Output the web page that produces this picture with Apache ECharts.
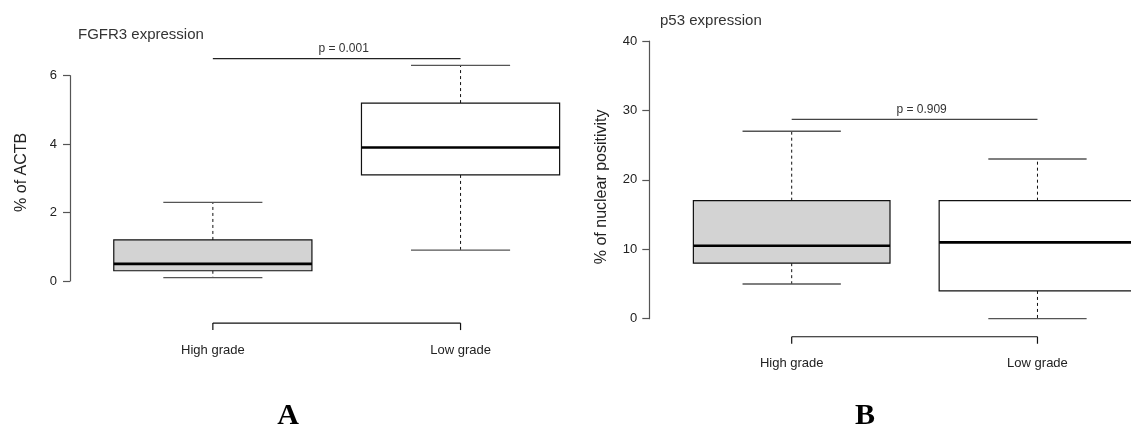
<!DOCTYPE html>
<html>
<head>
<meta charset="utf-8">
<title>FGFR3 and p53 expression</title>
<script src="https://cdn.jsdelivr.net/npm/echarts@6/dist/echarts.min.js"></script>
<style>
  html, body { margin: 0; padding: 0; background: #fff; }
  #chart { width: 1131px; height: 429px; }
</style>
</head>
<body>
<div id="chart"></div>
<script>
// groups on the x axis
const groups = ['High grade', 'Low grade'];
const groupPos = [1, 2];

// box stats per group: [min, q1, median, q3, max]
const fgfr3Box = [
  [0.1, 0.3, 0.5, 1.2, 2.3],
  [0.9, 3.1, 3.9, 5.2, 6.3]
];
const p53Box = [
  [5, 8, 10.5, 17, 27],
  [0, 4, 11, 17, 23]
];

// y tick labels
const fgfr3Ticks = [0, 2, 4, 6];
const p53Ticks = [0, 10, 20, 30, 40];

// significance annotations
const fgfr3PValue = 'p = 0.001';
const p53PValue = 'p = 0.909';
const fgfr3SigLevel = 6.5;
const p53SigLevel = 28.7;
const fgfr3BracketLevel = -1.23;
const p53BracketLevel = -2.6;

const boxFill = ['#d3d3d3', '#ffffff'];
const FONT = 'Liberation Sans, Arial, Helvetica, sans-serif';

const chart = echarts.init(document.getElementById('chart'));

// R style boxplot: dashed whiskers, half width caps
function renderBox(params, api) {
  const x = api.value(0);
  const lo = api.value(1), q1 = api.value(2), med = api.value(3), q3 = api.value(4), hi = api.value(5);
  const tl = api.coord([x - 0.4, q3]);
  const br = api.coord([x + 0.4, q1]);
  const m1 = api.coord([x - 0.4, med]);
  const m2 = api.coord([x + 0.4, med]);
  const c = api.coord([x, med]);
  const yLo = api.coord([x, lo])[1];
  const yHi = api.coord([x, hi])[1];
  const capL = api.coord([x - 0.2, lo])[0];
  const capR = api.coord([x + 0.2, lo])[0];
  const dash = { stroke: '#111', lineWidth: 1, lineDash: [3, 3] };
  const cap = { stroke: '#555', lineWidth: 1.3 };
  return {
    type: 'group',
    children: [
      { type: 'line', shape: { x1: c[0], y1: tl[1], x2: c[0], y2: yHi }, style: dash },
      { type: 'line', shape: { x1: c[0], y1: br[1], x2: c[0], y2: yLo }, style: dash },
      { type: 'line', shape: { x1: capL, y1: yHi, x2: capR, y2: yHi }, style: cap },
      { type: 'line', shape: { x1: capL, y1: yLo, x2: capR, y2: yLo }, style: cap },
      {
        type: 'rect',
        shape: { x: tl[0], y: tl[1], width: br[0] - tl[0], height: br[1] - tl[1] },
        style: { fill: boxFill[params.dataIndex], stroke: '#111', lineWidth: 1.2 }
      },
      { type: 'line', shape: { x1: m1[0], y1: m1[1], x2: m2[0], y2: m2[1] }, style: { stroke: '#000', lineWidth: 2.6 } }
    ]
  };
}

function sigRenderer(label, color) {
  return function (params, api) {
    const a = api.coord([api.value(0), api.value(2)]);
    const b = api.coord([api.value(1), api.value(2)]);
    return {
      type: 'group',
      children: [
        { type: 'line', shape: { x1: a[0], y1: a[1], x2: b[0], y2: b[1] }, style: { stroke: color, lineWidth: 1.2 } },
        {
          type: 'text',
          x: (a[0] + b[0]) / 2 + 7,
          y: a[1] - 4,
          style: { text: label, fill: '#333', font: '12px ' + FONT, align: 'center', verticalAlign: 'bottom' }
        }
      ]
    };
  };
}

// the x axis of R drawn as a bracket between the groups
function renderBracket(params, api) {
  const a = api.coord([api.value(0), api.value(2)]);
  const b = api.coord([api.value(1), api.value(2)]);
  const st = { stroke: '#111', lineWidth: 1.2 };
  return {
    type: 'group',
    children: [
      { type: 'line', shape: { x1: a[0], y1: a[1], x2: b[0], y2: b[1] }, style: st },
      { type: 'line', shape: { x1: a[0], y1: a[1], x2: a[0], y2: a[1] + 7 }, style: st },
      { type: 'line', shape: { x1: b[0], y1: b[1], x2: b[0], y2: b[1] + 7 }, style: st }
    ]
  };
}

function yAxisFor(ticks, gridIndex, name, offset, margin, padding) {
  return {
    type: 'value',
    gridIndex: gridIndex,
    min: ticks[0],
    max: ticks[ticks.length - 1],
    interval: ticks[1] - ticks[0],
    offset: offset,
    name: name,
    nameLocation: 'middle',
    nameGap: 40,
    nameTextStyle: { fontSize: 16, fontFamily: FONT, color: '#222', padding: padding },
    axisLine: { show: true, lineStyle: { color: '#555', width: 1.2 } },
    axisTick: { show: true, length: 7, lineStyle: { color: '#555', width: 1.2 } },
    axisLabel: { fontSize: 13, fontFamily: FONT, color: '#222', margin: margin },
    splitLine: { show: false }
  };
}

function xAxisFor(gridIndex, margin, max) {
  return {
    type: 'value',
    gridIndex: gridIndex,
    min: 0.5,
    max: max,
    interval: 0.5,
    axisLine: { show: false },
    axisTick: { show: false },
    splitLine: { show: false },
    axisLabel: {
      fontSize: 13,
      fontFamily: FONT,
      color: '#222',
      margin: margin,
      showMaxLabel: false,
      formatter: function (v) {
        const i = groupPos.indexOf(v);
        return i >= 0 ? groups[i] : '';
      }
    }
  };
}

const option = {
  animation: false,
  title: [
    { text: 'FGFR3 expression', left: 78, top: 27, padding: 0,
      textStyle: { fontSize: 15, fontWeight: 'normal', color: '#333', fontFamily: FONT } },
    { text: 'p53 expression', left: 660, top: 13, padding: 0,
      textStyle: { fontSize: 15, fontWeight: 'normal', color: '#333', fontFamily: FONT } }
  ],
  grid: [
    { left: 89, top: 75.7, width: 495.4, height: 205.3 },
    { left: 668.8, top: 41, width: 454.7, height: 277.7 }
  ],
  xAxis: [xAxisFor(0, 63, 2.5), xAxisFor(1, 38, 2.35)],
  yAxis: [
    yAxisFor(fgfr3Ticks, 0, '% of ACTB', 19, 13, [0, 0, 0, 12]),
    yAxisFor(p53Ticks, 1, '% of nuclear positivity', 19.5, 12, [0, 14, 0, 0])
  ],
  graphic: [
    { type: 'text', x: 288, y: 401, style: { text: 'A', font: 'bold 30px "Liberation Serif", serif', fill: '#000', align: 'center', verticalAlign: 'top' } },
    { type: 'text', x: 865, y: 401, style: { text: 'B', font: 'bold 30px "Liberation Serif", serif', fill: '#000', align: 'center', verticalAlign: 'top' } }
  ],
  series: [
    {
      type: 'custom', xAxisIndex: 0, yAxisIndex: 0, clip: false,
      renderItem: renderBox,
      encode: { x: 0, y: [1, 2, 3, 4, 5] },
      data: groupPos.map((x, i) => [x].concat(fgfr3Box[i]))
    },
    {
      type: 'custom', xAxisIndex: 0, yAxisIndex: 0, clip: false,
      renderItem: sigRenderer(fgfr3PValue, '#222'),
      encode: { x: [0, 1], y: 2 },
      data: [[groupPos[0], groupPos[1], fgfr3SigLevel]]
    },
    {
      type: 'custom', xAxisIndex: 0, yAxisIndex: 0, clip: false,
      renderItem: renderBracket,
      encode: { x: [0, 1], y: 2 },
      data: [[groupPos[0], groupPos[1], fgfr3BracketLevel]]
    },
    {
      type: 'custom', xAxisIndex: 1, yAxisIndex: 1, clip: false,
      renderItem: renderBox,
      encode: { x: 0, y: [1, 2, 3, 4, 5] },
      data: groupPos.map((x, i) => [x].concat(p53Box[i]))
    },
    {
      type: 'custom', xAxisIndex: 1, yAxisIndex: 1, clip: false,
      renderItem: sigRenderer(p53PValue, '#444'),
      encode: { x: [0, 1], y: 2 },
      data: [[groupPos[0], groupPos[1], p53SigLevel]]
    },
    {
      type: 'custom', xAxisIndex: 1, yAxisIndex: 1, clip: false,
      renderItem: renderBracket,
      encode: { x: [0, 1], y: 2 },
      data: [[groupPos[0], groupPos[1], p53BracketLevel]]
    }
  ]
};

chart.setOption(option);
</script>
</body>
</html>
